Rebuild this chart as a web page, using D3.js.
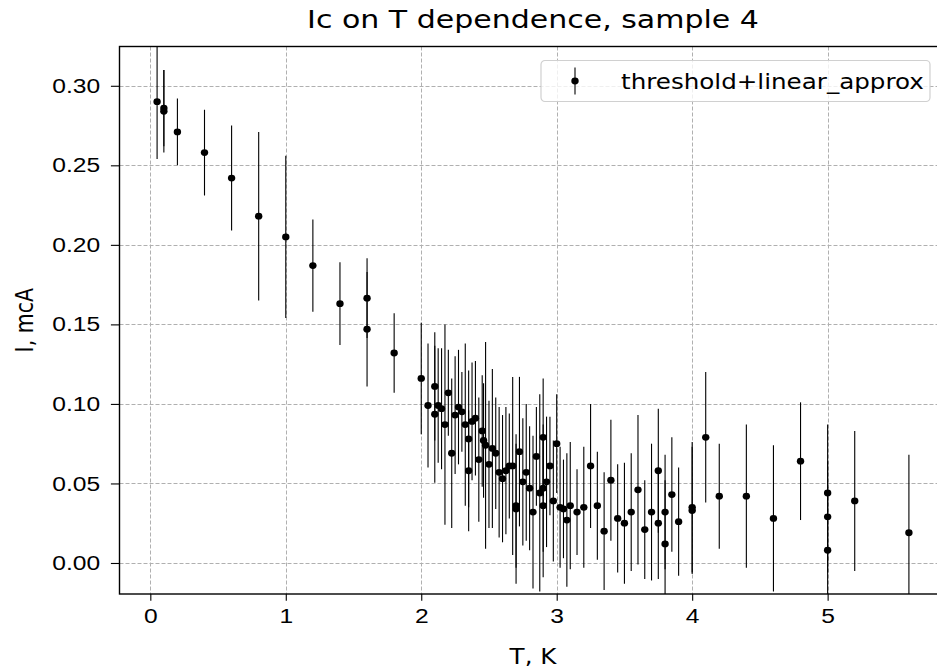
<!DOCTYPE html>
<html>
<head>
<meta charset="utf-8">
<script src="https://cdn.jsdelivr.net/npm/d3@7"></script>
<style>
  body { margin: 0; background: #fff; }
  svg { display: block; font-family: "DejaVu Sans", sans-serif; }
</style>
</head>
<body>
<div id="chart"></div>
<script>
// temperature, K
const temps = [
  0.05, 0.10, 0.10, 0.20, 0.40, 0.60, 0.80, 1.00, 1.20, 1.40, 1.60, 1.60, 1.80,
  2.00, 2.05, 2.10, 2.10, 2.125, 2.15, 2.175, 2.20, 2.225, 2.25, 2.275, 2.30, 2.325,
  2.35, 2.35, 2.375, 2.40, 2.425, 2.45, 2.46, 2.475, 2.50, 2.525, 2.55, 2.575, 2.60,
  2.625, 2.65, 2.675, 2.70, 2.70, 2.725, 2.75, 2.775, 2.80, 2.825, 2.85, 2.875, 2.90,
  2.90, 2.90, 2.925, 2.95, 2.975, 3.00, 3.025, 3.05, 3.075, 3.10, 3.15, 3.20, 3.25,
  3.30, 3.35, 3.40, 3.45, 3.50, 3.55, 3.60, 3.65, 3.70, 3.75, 3.75, 3.80, 3.80, 3.85,
  3.90, 4.00, 4.00, 4.10, 4.20, 4.40, 4.60, 4.80, 5.00, 5.00, 5.00, 5.20, 5.60
]
// critical current, mcA
const currents = [
  0.290, 0.286, 0.284, 0.271, 0.258, 0.242, 0.218, 0.205, 0.187, 0.163, 0.1665, 0.147, 0.132,
  0.116, 0.099, 0.111, 0.0935, 0.099, 0.097, 0.087, 0.107, 0.069, 0.093, 0.098, 0.095, 0.087,
  0.078, 0.058, 0.089, 0.091, 0.065, 0.083, 0.077, 0.074, 0.062, 0.072, 0.069, 0.057, 0.053,
  0.058, 0.061, 0.061, 0.036, 0.034, 0.070, 0.051, 0.057, 0.047, 0.032, 0.067, 0.044, 0.079,
  0.047, 0.036, 0.051, 0.061, 0.039, 0.075, 0.035, 0.034, 0.027, 0.036, 0.032, 0.035, 0.061,
  0.036, 0.020, 0.052, 0.028, 0.025, 0.032, 0.046, 0.021, 0.032, 0.058, 0.025, 0.032, 0.012, 0.043,
  0.026, 0.035, 0.033, 0.079, 0.042, 0.042, 0.028, 0.064, 0.044, 0.029, 0.008, 0.039, 0.019
]
// error bar half-length, mcA
const errors = [
  0.036, 0.024, 0.026, 0.021, 0.027, 0.033, 0.053, 0.051, 0.029, 0.026, 0.025, 0.036, 0.025,
  0.035, 0.039, 0.034, 0.043, 0.036, 0.038, 0.063, 0.027, 0.047, 0.037, 0.036, 0.025, 0.051,
  0.043, 0.038, 0.037, 0.036, 0.039, 0.035, 0.036, 0.065, 0.040, 0.050, 0.035, 0.041, 0.040,
  0.040, 0.033, 0.056, 0.039, 0.047, 0.047, 0.040, 0.043, 0.039, 0.048, 0.031, 0.062, 0.037,
  0.040, 0.045, 0.041, 0.031, 0.038, 0.031, 0.038, 0.031, 0.042, 0.040, 0.027, 0.038, 0.039,
  0.034, 0.037, 0.038, 0.034, 0.038, 0.037, 0.047, 0.031, 0.043, 0.039, 0.035, 0.036, 0.040, 0.036,
  0.034, 0.041, 0.040, 0.041, 0.033, 0.045, 0.046, 0.037, 0.043, 0.035, 0.040, 0.044, 0.049
]
const xTicks = [0, 1, 2, 3, 4, 5]
const yTicks = [0.00, 0.05, 0.10, 0.15, 0.20, 0.25, 0.30]

const title = "Ic on T dependence, sample 4"
const xLabel = "T, K"
const yLabel = "I, mcA"
const legendLabel = "threshold+linear_approx"

let width = 937,
    height = 672,
    marginLeft = 119.5,
    marginTop = 46.5,
    plotRight = 946.5, // axes run a little past the right edge of the picture
    plotBottom = 594,
    fontSize = 20.5,
    titleSize = 25,
    stretch = 1.2, // the reference picture is a bit wider than it is tall, text included
    gridColor = "#b0b0b0"

const x = d3.scaleLinear([-0.2275, 5.8775], [marginLeft, plotRight])
const y = d3.scaleLinear([-0.0195, 0.3247], [plotBottom, marginTop])

const I = d3.range(temps.length)

const svg = d3.select("#chart")
    .append("svg")
    .attr("width", width)
    .attr("height", height)
    .attr("viewBox", [0, 0, width, height])

svg.append("defs").append("clipPath")
    .attr("id", "plot-clip")
    .append("rect")
    .attr("x", marginLeft)
    .attr("y", marginTop)
    .attr("width", plotRight - marginLeft)
    .attr("height", plotBottom - marginTop)

// grid
svg.append("g")
    .attr("stroke", gridColor)
    .attr("stroke-width", 1)
    .attr("stroke-dasharray", "4,2")
    .call(g => g.selectAll(".vx").data(xTicks).join("line")
        .attr("x1", d => Math.round(x(d)) + 0.5).attr("x2", d => Math.round(x(d)) + 0.5)
        .attr("y1", marginTop).attr("y2", plotBottom))
    .call(g => g.selectAll(".hy").data(yTicks).join("line")
        .attr("x1", marginLeft).attr("x2", plotRight)
        .attr("y1", d => Math.round(y(d)) + 0.5).attr("y2", d => Math.round(y(d)) + 0.5))

// error bars and points
const marks = svg.append("g").attr("clip-path", "url(#plot-clip)")

marks.append("g")
    .attr("stroke", "#000")
    .attr("stroke-width", 1.1)
    .selectAll("line")
    .data(I)
    .join("line")
    .attr("x1", i => x(temps[i]))
    .attr("x2", i => x(temps[i]))
    .attr("y1", i => y(currents[i] - errors[i]))
    .attr("y2", i => y(currents[i] + errors[i]))

marks.append("g")
    .attr("fill", "#000")
    .selectAll("ellipse")
    .data(I)
    .join("ellipse")
    .attr("cx", i => x(temps[i]))
    .attr("cy", i => y(currents[i]))
    .attr("rx", 3.7)
    .attr("ry", 3.4)

// axes
svg.append("g")
    .attr("transform", `translate(0,${plotBottom})`)
    .call(d3.axisBottom(x).tickValues(xTicks).tickFormat(d3.format("d")).tickSize(6.75).tickPadding(8))
    .call(g => g.select(".domain").remove())
    .call(g => g.selectAll("text").attr("font-size", fontSize).attr("fill", "#000")
        .attr("transform", `scale(${stretch},1)`))
    .call(g => g.selectAll("line").attr("stroke", "#000").attr("stroke-width", 1.1))

svg.append("g")
    .attr("transform", `translate(${marginLeft},0)`)
    .call(d3.axisLeft(y).tickValues(yTicks).tickFormat(d3.format(".2f")).tickSize(8.6).tickPadding(7.5))
    .call(g => g.select(".domain").remove())
    .call(g => g.selectAll("text").attr("font-size", fontSize).attr("fill", "#000")
        .attr("transform", `scale(${stretch},1)`))
    .call(g => g.selectAll("line").attr("stroke", "#000").attr("stroke-width", 1.1))

// frame
svg.append("rect")
    .attr("x", marginLeft)
    .attr("y", marginTop)
    .attr("width", plotRight - marginLeft)
    .attr("height", plotBottom - marginTop)
    .attr("fill", "none")
    .attr("stroke", "#000")
    .attr("stroke-width", 1.4)

// labels
svg.append("text")
    .attr("transform", `translate(${(marginLeft + plotRight) / 2},28) scale(${stretch},1)`)
    .attr("text-anchor", "middle")
    .attr("font-size", titleSize)
    .text(title)

svg.append("text")
    .attr("transform", `translate(${(marginLeft + plotRight) / 2},664) scale(${stretch},1)`)
    .attr("text-anchor", "middle")
    .attr("font-size", fontSize)
    .text(xLabel)

svg.append("text")
    .attr("transform", `translate(33,${(marginTop + plotBottom) / 2}) rotate(-90) scale(1,${stretch})`)
    .attr("text-anchor", "middle")
    .attr("font-size", fontSize)
    .text(yLabel)

// legend
const legend = svg.append("g").attr("transform", "translate(541,60.5)")
legend.append("rect")
    .attr("width", 389)
    .attr("height", 41)
    .attr("rx", 4)
    .attr("fill", "#fff")
    .attr("fill-opacity", 0.8)
    .attr("stroke", "#d0d0d0")
    .attr("stroke-width", 1.2)
legend.append("line")
    .attr("x1", 34).attr("x2", 34)
    .attr("y1", 7).attr("y2", 34)
    .attr("stroke", "#000").attr("stroke-width", 1.1)
legend.append("ellipse")
    .attr("cx", 34).attr("cy", 20.5).attr("rx", 3.7).attr("ry", 3.4).attr("fill", "#000")
legend.append("text")
    .attr("transform", `translate(80,28) scale(${stretch},1)`)
    .attr("font-size", fontSize)
    .text(legendLabel)
</script>
</body>
</html>
